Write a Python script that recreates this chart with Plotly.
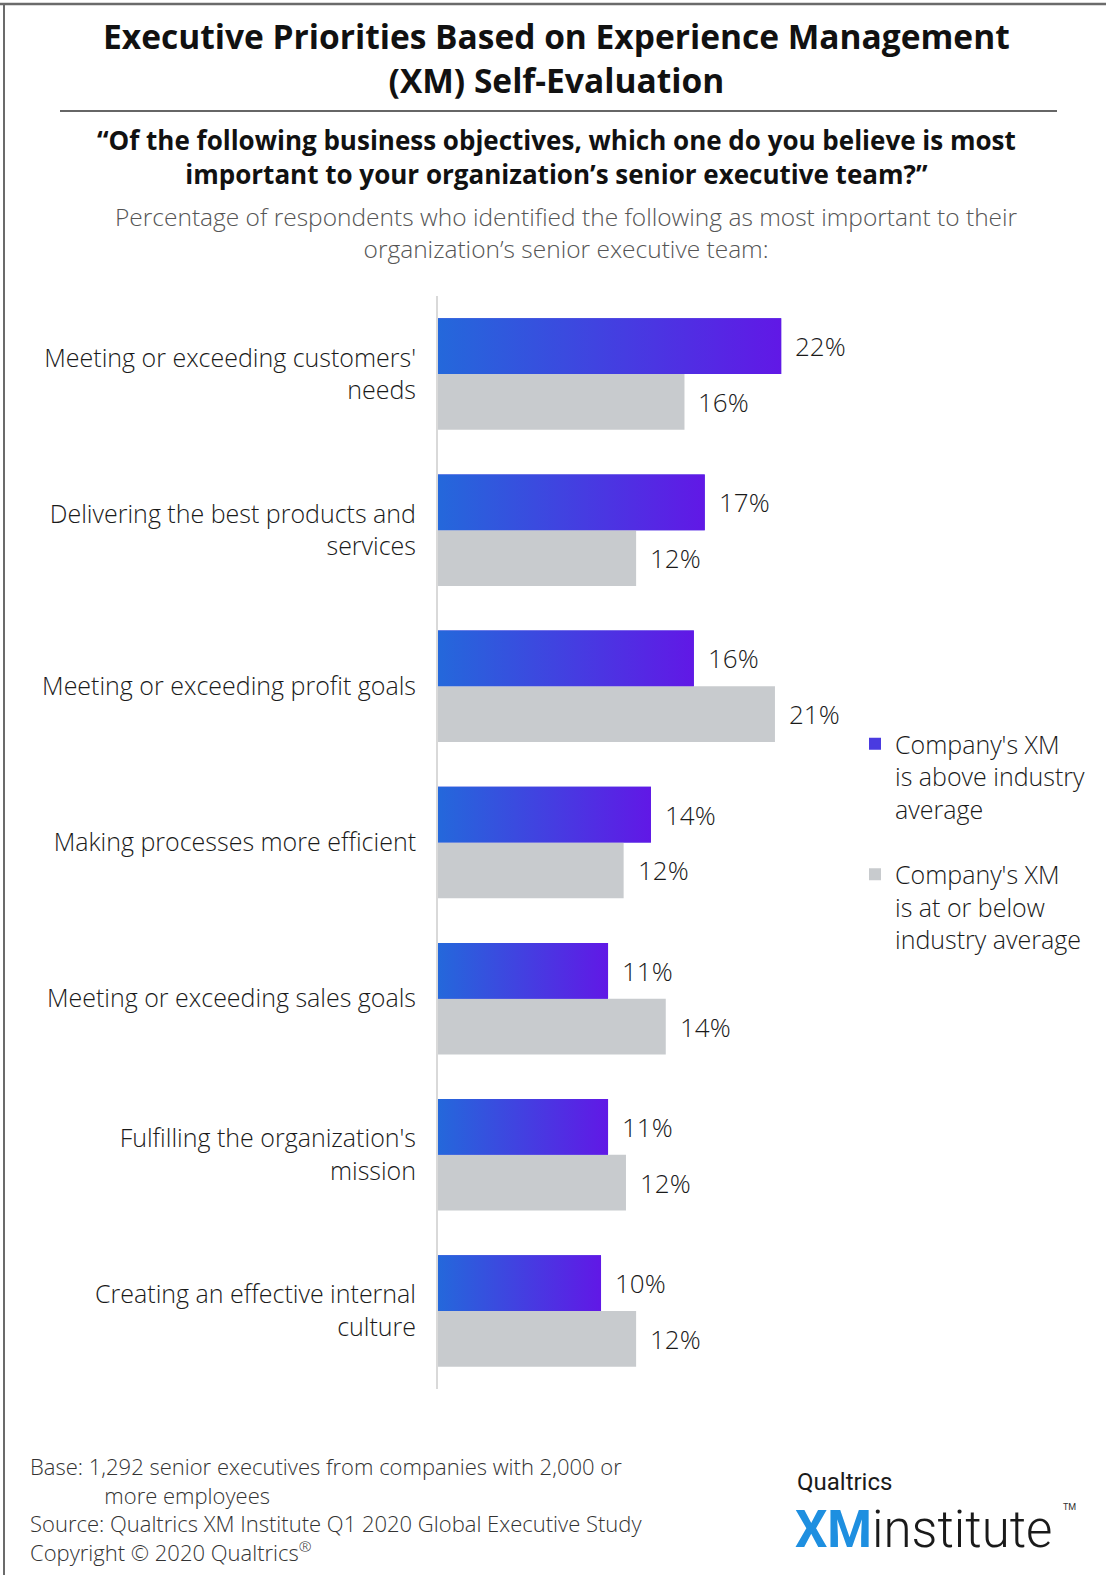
import plotly.graph_objects as go

# ---- data ----
categories = [
    "Meeting or exceeding customers'<br>needs",
    "Delivering the best products and<br>services",
    "Meeting or exceeding profit goals",
    "Making processes more efficient",
    "Meeting or exceeding sales goals",
    "Fulfilling the organization's<br>mission",
    "Creating an effective internal<br>culture",
]
above_values = [22.0, 17.1, 16.4, 13.65, 10.9, 10.9, 10.45]
above_labels = ["22%", "17%", "16%", "14%", "11%", "11%", "10%"]
below_values = [15.8, 12.7, 21.6, 11.9, 14.6, 12.05, 12.7]
below_labels = ["16%", "12%", "21%", "12%", "14%", "12%", "12%"]
series_names = ["Company's XM<br>is above industry<br>average",
                "Company's XM<br>is at or below<br>industry average"]
footer_lines = [
    "Base: 1,292 senior executives from companies with 2,000 or",
    "\u00a0" * 13 + "more employees",
    "Source: Qualtrics XM Institute Q1 2020 Global Executive Study",
    "Copyright \u00a9 2020 Qualtrics<sup>\u00ae</sup>",
]

W, H = 1106, 1575
ML, MR, MT, MB = 438, 200, 296, 186
PW, PH = W - ML - MR, H - MT - MB
BW = 0.357
GREY = "#c8cbce"
GRAD = [[0, "#2468db"], [1, "#6118e6"]]
FONT = "Open Sans"


def px(p):
    return (p - ML) / PW


def py(p):
    return (H - MB - p) / PH


idx = list(range(len(categories)))
fig = go.Figure()

fig.add_trace(go.Bar(
    y=idx, x=above_values, orientation="h", width=BW, offset=-BW,
    marker=dict(color="#4a3be0", line=dict(width=0)), textposition="none",
    name=series_names[0], legendgroup="a", hoverinfo="skip"))
fig.add_trace(go.Bar(
    y=idx, x=below_values, orientation="h", width=BW, offset=0,
    marker=dict(color=GREY, line=dict(width=0)), textposition="none",
    name=series_names[1], legendgroup="b", hoverinfo="skip"))

# gradient overlay on the "above" bars
for i, v in zip(idx, above_values):
    fig.add_trace(go.Scatter(
        x=[0, v, v, 0, 0], y=[i - BW, i - BW, i, i, i - BW],
        mode="lines", line=dict(width=0), fill="toself",
        fillgradient=dict(type="horizontal", colorscale=GRAD),
        showlegend=False, hoverinfo="skip"))

annotations = []
for i, v, t in zip(idx, above_values, above_labels):
    annotations.append(dict(x=v, y=i - BW / 2, xref="x", yref="y", text=t,
                            showarrow=False, xanchor="left", xshift=12,
                            font=dict(family=FONT, size=26, color="#1a1a1a", weight=300)))
for i, v, t in zip(idx, below_values, below_labels):
    annotations.append(dict(x=v, y=i + BW / 2, xref="x", yref="y", text=t,
                            showarrow=False, xanchor="left", xshift=12,
                            font=dict(family=FONT, size=26, color="#1a1a1a", weight=300)))


def txt(text, x, y, size, color="#111", weight=400, xanchor="center", family=FONT,
        align="center"):
    annotations.append(dict(text=text, x=px(x), y=py(y), xref="paper", yref="paper",
                            showarrow=False, xanchor=xanchor, yanchor="middle", align=align,
                            font=dict(family=family, size=size, color=color, weight=weight)))


# titles
txt("Executive Priorities Based on Experience Management<br>(XM) Self-Evaluation",
    556, 58, 33.5, "#111", 700)
txt("\u201cOf the following business objectives, which one do you believe is most<br>"
    "important to your organization\u2019s senior executive team?\u201d", 556, 157, 26, "#111", 700)
txt("Percentage of respondents who identified the following as most important to their<br>"
    "organization\u2019s senior executive team:", 566, 233, 24.5, "#555", 300)

# footer
txt("<br>".join(footer_lines), 28, 1509, 22, "#333", 300, "left", align="left")

# logo
txt("Qualtrics", 795, 1482, 24, "#1a1a1a", 400, "left", "Roboto")
txt("<b><span style='color:#1e8fe0'>XM</span></b>institute", 793, 1530, 51, "#1a1a1a", 300, "left", "Roboto")
txt("TM", 1061, 1507, 9, "#333", 400, "left", "Roboto")

shapes = [
    dict(type="line", xref="paper", yref="paper", x0=px(0), x1=px(W), y0=py(4), y1=py(4),
         line=dict(color="#6b6b6b", width=2.5)),
    dict(type="line", xref="paper", yref="paper", x0=px(4), x1=px(4), y0=py(3), y1=py(H),
         line=dict(color="#6b6b6b", width=2)),
    dict(type="line", xref="paper", yref="paper", x0=px(60), x1=px(1057), y0=py(111), y1=py(111),
         line=dict(color="#333", width=1.5)),
]

fig.update_layout(
    width=W, height=H,
    margin=dict(l=ML, r=MR, t=MT, b=MB),
    paper_bgcolor="white", plot_bgcolor="white",
    barmode="overlay",
    showlegend=True,
    legend=dict(x=px(855), y=py(721), xanchor="left", yanchor="top",
                font=dict(family=FONT, size=25, color="#1a1a1a", weight=300),
                valign="top", traceorder="grouped", tracegroupgap=30,
                bgcolor="rgba(0,0,0,0)"),
    xaxis=dict(range=[0, 30], showgrid=False, zeroline=False, showticklabels=False,
               showline=False, fixedrange=True),
    yaxis=dict(range=[6.5, -0.5], tickvals=idx, ticktext=categories,
               showgrid=False, zeroline=False, showline=True, linecolor="#d9d9d9",
               linewidth=2, ticks="", ticklabelstandoff=15,
               tickfont=dict(family=FONT, size=25, color="#1a1a1a", weight=300)),
    annotations=annotations,
    shapes=shapes,
)

fig.write_html("out.html")
